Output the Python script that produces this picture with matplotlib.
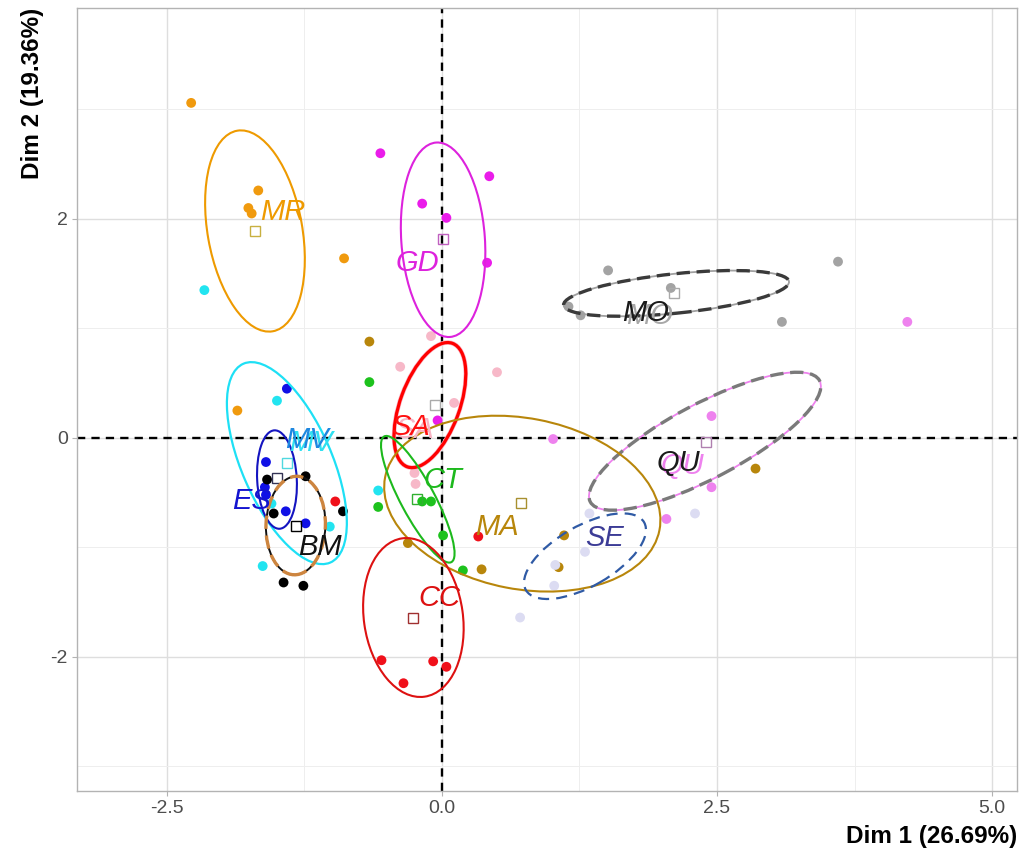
import matplotlib
matplotlib.use("Agg")
import matplotlib.pyplot as plt
from matplotlib.patches import Ellipse

plt.rcParams["font.family"] = ["Liberation Sans", "DejaVu Sans"]

groups = ["MR", "GD", "MO", "QU", "SA", "MA", "CT", "CC", "SE", "MV", "ES", "BM"]

# individuals (Dim 1, Dim 2), one pair of lists per group
mr_x = [-2.28, -1.67, -1.76, -1.73, -0.89, -1.86]
mr_y = [3.06, 2.26, 2.10, 2.05, 1.64, 0.25]
gd_x = [-0.56, 0.43, -0.18, 0.04, 0.41, -0.04]
gd_y = [2.60, 2.39, 2.14, 2.01, 1.60, 0.16]
mo_x = [1.51, 2.08, 1.15, 1.26, 3.60, 3.09]
mo_y = [1.53, 1.37, 1.20, 1.12, 1.61, 1.06]
qu_x = [4.23, 2.45, 1.01, 2.45, 2.04]
qu_y = [1.06, 0.20, -0.01, -0.45, -0.74]
sa_x = [-0.10, -0.38, 0.50, 0.11, -0.25, -0.24]
sa_y = [0.93, 0.65, 0.60, 0.32, -0.32, -0.42]
ma_x = [-0.66, 1.11, 0.36, -0.31, 2.85, 1.06]
ma_y = [0.88, -0.89, -1.20, -0.96, -0.28, -1.18]
ct_x = [-0.66, -0.58, -0.18, -0.10, 0.01, 0.19]
ct_y = [0.51, -0.63, -0.58, -0.58, -0.89, -1.21]
cc_x = [-0.55, -0.35, -0.08, 0.04, 0.33, -0.97]
cc_y = [-2.03, -2.24, -2.04, -2.09, -0.90, -0.58]
se_x = [1.34, 1.30, 1.03, 1.02, 0.71, 2.30]
se_y = [-0.69, -1.04, -1.16, -1.35, -1.64, -0.69]
mv_x = [-2.16, -1.50, -0.58, -1.02, -1.63, -1.55]
mv_y = [1.35, 0.34, -0.48, -0.81, -1.17, -0.60]
es_x = [-1.41, -1.60, -1.61, -1.42, -1.24, -1.60]
es_y = [0.45, -0.22, -0.45, -0.67, -0.78, -0.52]
bm_x = [-1.59, -1.24, -1.53, -0.90, -1.44, -1.26]
bm_y = [-0.38, -0.35, -0.69, -0.67, -1.32, -1.35]

# group means (open squares)
mean_x = [-1.70, 0.01, 2.11, 2.40, -0.06, 0.72, -0.23, -0.26, None, -1.41, -1.50, -1.33]
mean_y = [1.89, 1.82, 1.32, -0.04, 0.30, -0.59, -0.56, -1.64, None, -0.23, -0.37, -0.80]

# confidence ellipses: centre, semi-axes, rotation (deg)
ell_x = [-1.70, 0.01, 2.13, 2.39, -0.11, 0.73, -0.22, -0.26, 1.30, -1.41, -1.50, -1.33]
ell_y = [1.89, 1.81, 1.32, -0.03, 0.30, -0.60, -0.56, -1.64, -1.08, -0.23, -0.38, -0.80]
ell_a = [0.43, 0.38, 1.03, 1.18, 0.60, 1.27, 0.65, 0.45, 0.62, 0.99, 0.18, 0.27]
ell_b = [0.93, 0.89, 0.18, 0.34, 0.27, 0.78, 0.155, 0.73, 0.275, 0.41, 0.45, 0.45]
ell_ang = [10, 4, 6, 28, 70, -11, 118, 8, 30, 113.5, 3, -2]

# group labels
lab_x = [-1.45, -0.22, 1.85, 2.15, -0.29, 0.50, 0.01, -0.02, 1.48, -1.23, -1.73, -1.11]
lab_y = [2.06, 1.60, 1.14, -0.23, 0.10, -0.81, -0.38, -1.46, -0.91, -0.02, -0.58, -1.00]

pts = {
    "MR": (mr_x, mr_y), "GD": (gd_x, gd_y), "MO": (mo_x, mo_y), "QU": (qu_x, qu_y),
    "SA": (sa_x, sa_y), "MA": (ma_x, ma_y), "CT": (ct_x, ct_y), "CC": (cc_x, cc_y),
    "SE": (se_x, se_y), "MV": (mv_x, mv_y), "ES": (es_x, es_y), "BM": (bm_x, bm_y),
}

pt_col = {"MR": "#F09A0E", "GD": "#EA1CEA", "MO": "#A3A3A3", "QU": "#EE82EE",
          "SA": "#F7B8C8", "MA": "#B8860B", "CT": "#1DC21D", "CC": "#F0101A",
          "SE": "#DCDCF2", "MV": "#22E4F0", "ES": "#1010E6", "BM": "#000000"}
sq_col = {"MR": "#C8B040", "GD": "#C060C0", "MO": "#AAAAAA", "QU": "#B080B0",
          "SA": "#AAAAAA", "MA": "#A89030", "CT": "#30B030", "CC": "#A03030",
          "MV": "#50D8E0", "ES": "#333355", "BM": "#000000"}
# (colour, linestyle, linewidth) layers for each ellipse
ell_style = {
    "MR": [("#EE9A00", "-", 1.5)],
    "GD": [("#DD22DD", "-", 1.5)],
    "MO": [("#A0A0A0", "-", 1.3), ("#3A3A3A", (0, (4, 2)), 2.4)],
    "QU": [("#EE82EE", "-", 1.3), ("#7A7A7A", (0, (4, 2)), 2.4)],
    "SA": [("#F8B4C4", "-", 3.2), ("#FF0000", "-", 2.3)],
    "MA": [("#B8860B", "-", 1.5)],
    "CT": [("#1DB91D", "-", 1.5)],
    "CC": [("#DD1111", "-", 1.5)],
    "SE": [("#2F5AA5", (0, (5, 3.2)), 1.6)],
    "MV": [("#1EE0F5", "-", 1.6)],
    "ES": [("#1414C0", "-", 1.5)],
    "BM": [("#111111", "-", 1.4), ("#CD853F", (0, (4, 2)), 2.4)],
}
lab_style = {
    "MR": ["#EE9A00"], "GD": ["#DD22DD"], "MO": ["#A8A8A8", "#1A1A1A"],
    "QU": ["#EE82EE", "#1A1A1A"], "SA": ["#F8B4C4", "#FF1010"], "MA": ["#B8860B"],
    "CT": ["#1DB91D"], "CC": ["#DD1111"], "SE": ["#3C3C96"], "MV": ["#30E0F0", "#1E88E0"],
    "ES": ["#1414D0"], "BM": ["#111111"],
}

fig = plt.figure(figsize=(10.25, 8.55), dpi=100)
ax = fig.add_axes([0.0751, 0.0749, 0.9171, 0.9158])
ax.set_xlim(-3.318, 5.227)
ax.set_ylim(-3.224, 3.927)

ax.set_xticks([-2.5, 0, 2.5, 5.0])
ax.set_xticklabels(["-2.5", "0.0", "2.5", "5.0"])
ax.set_yticks([-2, 0, 2])
ax.set_yticklabels(["-2", "0", "2"])
ax.set_xticks([-1.25, 1.25, 3.75], minor=True)
ax.set_yticks([-3, -1, 1, 3], minor=True)
ax.grid(which="major", color="#DEDEDE", lw=1.0, zorder=0)
ax.grid(which="minor", color="#EEEEEE", lw=0.7, zorder=0)
ax.set_axisbelow(True)
for sp in ax.spines.values():
    sp.set_color("#B3B3B3")
    sp.set_linewidth(1.0)
ax.tick_params(which="major", length=3.5, color="#B3B3B3", labelcolor="#4D4D4D",
               labelsize=14, pad=3)
ax.tick_params(which="minor", length=0)

ax.axhline(0, color="black", lw=1.7, ls=(0, (3.5, 2.6)), zorder=1)
ax.axvline(0, color="black", lw=1.7, ls=(0, (3.5, 2.6)), zorder=1)

for i, g in enumerate(groups):
    xs, ys = pts[g]
    ax.scatter(xs, ys, s=50, color=pt_col[g], edgecolors="none", zorder=2)
    if mean_x[i] is not None:
        ax.plot(mean_x[i], mean_y[i], marker="s", ms=7, mfc="none",
                mec=sq_col[g], mew=1.0, zorder=3)
    for col, ls, lw in ell_style[g]:
        ax.add_patch(Ellipse((ell_x[i], ell_y[i]), 2 * ell_a[i], 2 * ell_b[i],
                             angle=ell_ang[i], fill=False, ec=col, ls=ls, lw=lw,
                             zorder=4))
    # some groups carry a second, slightly shifted label underneath
    cols = lab_style[g]
    for k, col in enumerate(cols):
        off = (3, -2) if (len(cols) == 2 and k == 0) else (0, 0)
        ax.annotate(g, (lab_x[i], lab_y[i]), xytext=off, textcoords="offset points",
                    ha="center", va="center", fontsize=21, style="italic",
                    color=col, zorder=5)

ax.set_xlabel("Dim 1 (26.69%)", loc="right", fontsize=17.5, fontweight="bold",
              labelpad=6)
ax.set_ylabel("Dim 2 (19.36%)", loc="top", fontsize=17.5, fontweight="bold",
              labelpad=5)

fig.savefig("out.png", dpi=100)
